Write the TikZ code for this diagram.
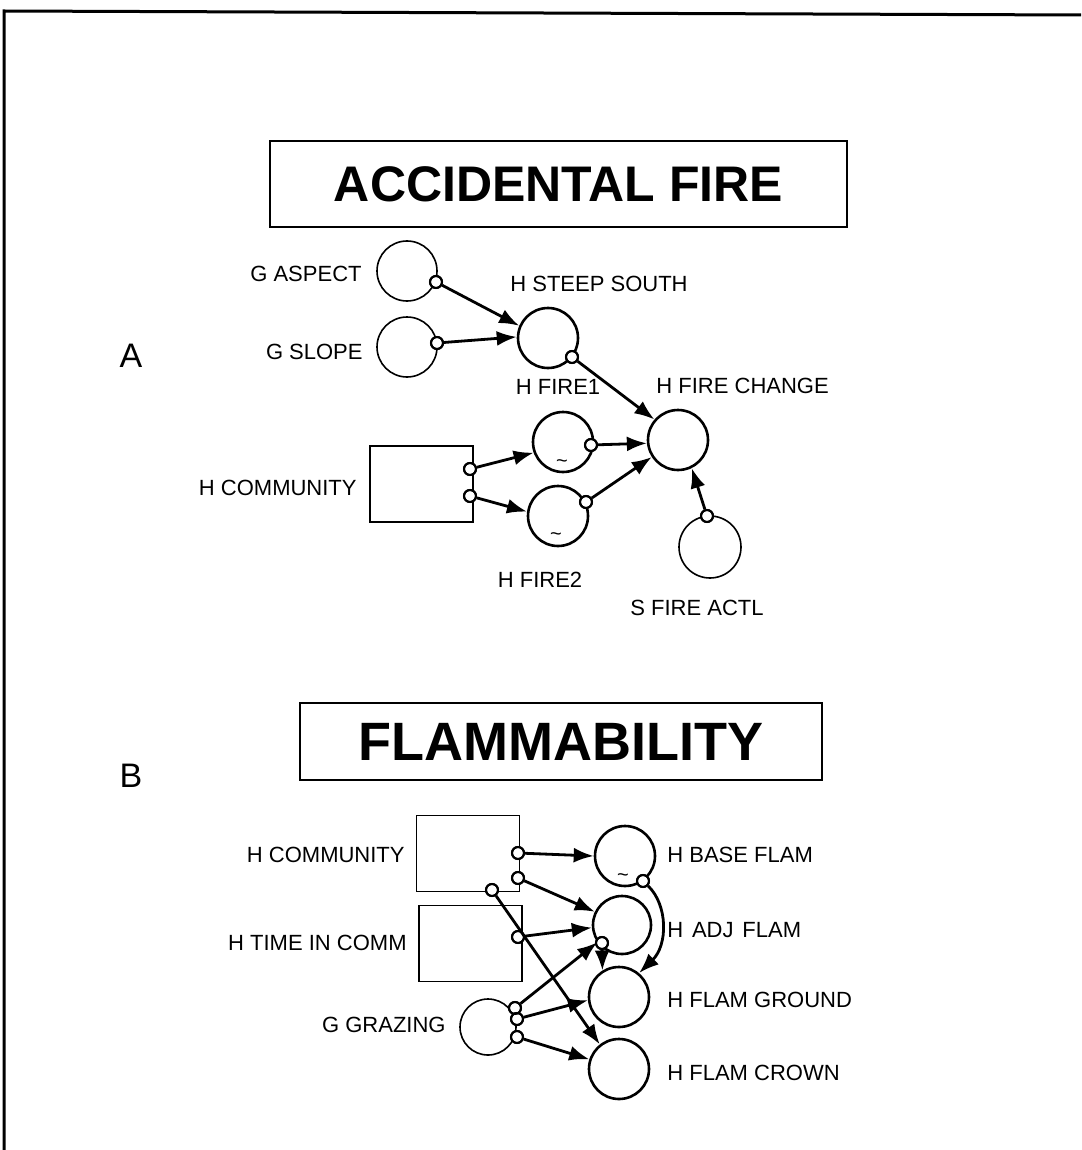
\documentclass[tikz,border=0pt]{standalone}
\usepackage{fontspec}
\setmainfont{Liberation Sans}
\usetikzlibrary{arrows.meta}
\begin{document}
\begin{tikzpicture}[x=0.5pt,y=-0.5pt,
 bigc/.style={circle,draw,line width=1.3pt,minimum size=30pt,inner sep=0pt},
 lightc/.style={circle,draw,line width=0.8pt,minimum size=30pt,inner sep=0pt},
 outlet/.style={circle,draw,line width=1pt,fill=white,minimum size=6pt,inner sep=0pt},
 boxn/.style={draw,line width=0.9pt,inner sep=0pt,minimum width=51.5pt,minimum height=38pt},
 lbl/.style={font=\fontsize{11}{13}\selectfont,inner sep=0pt},
 big/.style={font=\fontsize{17}{19}\selectfont,inner sep=0pt},
 tl/.style={font=\fontsize{10}{11}\selectfont,inner sep=0pt},
 titlebox/.style={draw,line width=1pt,inner sep=0pt},
 link/.style={line width=1.4pt,-{Latex[length=10pt,width=7.5pt]}},
]
\useasboundingbox (0,0) rectangle (1081,1150);
% frame
\draw[line width=1.5pt] (1081,15) -- (4,11) -- (4,1150);

% ---------- A ----------
\node[titlebox,minimum width=288.5pt,minimum height=43pt,font=\bfseries\fontsize{25}{30}\selectfont] (tA) at (558.5,184) {ACCIDENTAL FIRE};
\node[big] (lA) at (131,356) {A};

\node[lightc] (asp) at (407,271) {};
\node[lightc] (slp) at (407,347) {};
\node[bigc] (steep) at (548,338) {};
\node[bigc] (chg) at (678,440) {};
\node[boxn] (commA) at (421.5,484) {};
\node[bigc] (fa) at (563,442) {};
\node[bigc] (fb) at (558,516) {};
\node[lightc,minimum size=31pt] (actl) at (710,547) {};

\node[tl] (tfa) at (562,464) {\textasciitilde};
\node[tl] (tfb) at (556,537) {\textasciitilde};

\node[outlet] (oasp) at (436,282) {};
\node[outlet] (oslp) at (437,343) {};
\node[outlet] (osteep) at (572,357) {};
\node[outlet] (oc1) at (470,469) {};
\node[outlet] (oc2) at (470,496) {};
\node[outlet] (ofa) at (591,445) {};
\node[outlet] (ofb) at (586,502) {};
\node[outlet] (oactl) at (707,516) {};

\node[lbl,anchor=east] (Lasp) at (362,274) {G ASPECT};
\node[lbl,anchor=east] (Lslp) at (363,352) {G SLOPE};
\node[lbl] (Lsteep) at (599,284) {H STEEP SOUTH};
\node[lbl] (Lf1) at (558,387) {H FIRE1};
\node[lbl,anchor=west] (Lchg) at (656,386) {H FIRE CHANGE};
\node[lbl,anchor=east] (Lcomm) at (357,488) {H COMMUNITY};
\node[lbl] (Lf2) at (540,580) {H FIRE2};
\node[lbl] (Lactl) at (697,608) {S FIRE ACTL};

\draw[link] (oasp) -- (steep.157);
\draw[link] (oslp) -- (steep.178);
\draw[link] (osteep) -- (chg.139);
\draw[link] (oc1) -- (fa.200);
\draw[link] (oc2) -- (fb.172);
\draw[link] (ofa) -- (chg.186);
\draw[link] (ofb) -- (chg.213);
\draw[link] (oactl) -- (chg.296);

% ---------- B ----------
\node[titlebox,minimum width=261pt,minimum height=38.5pt,font=\bfseries\fontsize{27}{32}\selectfont] (tB) at (561,741.5) {FLAMMABILITY};
\node[big] (lB) at (131,776) {B};

\node[boxn] (commB) at (468,853.5) {};
\node[boxn] (timeB) at (470.5,943.5) {};
\node[bigc] (base) at (625,856) {};
\node[bigc,minimum size=29pt] (adj) at (622,925) {};
\node[bigc] (ground) at (619,997) {};
\node[bigc] (crown) at (619,1069) {};
\node[lightc,minimum size=28pt] (graz) at (488,1027) {};

\node[tl] (tbase) at (623,878) {\textasciitilde};

\node[outlet] (ob1) at (518,853) {};
\node[outlet] (ob2) at (518,878) {};
\node[outlet] (ob3) at (492,890) {};
\node[outlet] (ot1) at (518,937) {};
\node[outlet] (obase) at (643,881) {};
\node[outlet] (oadj) at (602,943) {};
\node[outlet] (og1) at (515,1008) {};
\node[outlet] (og2) at (517,1019) {};
\node[outlet] (og3) at (517,1037) {};

\node[lbl,anchor=east] (LcommB) at (405,855) {H COMMUNITY};
\node[lbl,anchor=east] (Ltime) at (407,943) {H TIME IN COMM};
\node[lbl,anchor=east] (Lgraz) at (446,1025) {G GRAZING};
\node[lbl,anchor=west] (Lbase) at (667,855) {H BASE FLAM};
\node[lbl,anchor=west] (Ladj) at (667,930) {H\hspace{0.4em}ADJ\hspace{0.4em}FLAM};
\node[lbl,anchor=west] (Lground) at (667,1000) {H FLAM GROUND};
\node[lbl,anchor=west] (Lcrown) at (667,1073) {H FLAM CROWN};

\draw[link] (ob1) -- (base.180);
\draw[link] (ob2) -- (adj.154);
\draw[link] (ot1) -- (adj.185);
\draw[link] (ob3) -- (crown.128);
\draw[link] (og1) -- (adj.215);
\draw[link] (oadj) -- (ground.122);
\draw[link] (obase) .. controls (668,905) and (668,945) .. (ground.50);
\draw[link] (og2) -- (ground.186);
\draw[link] (og3) -- (crown.162);
% redraw outlets on top
\foreach \o in {ob1,ob2,ob3,ot1,obase,oadj,og1,og2,og3,oasp,oslp,osteep,oc1,oc2,ofa,ofb,oactl}
  \draw[line width=1pt] (\o) circle[radius=3pt];
\end{tikzpicture}
\end{document}
